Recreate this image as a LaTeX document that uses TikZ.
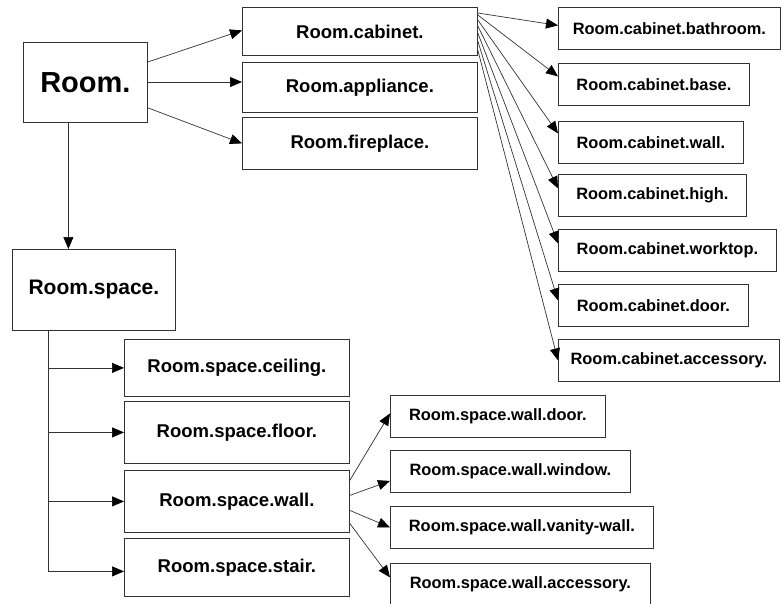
\documentclass[tikz,border=0pt]{standalone}
\usepackage{fontspec}
\setmainfont{Liberation Sans}
\usetikzlibrary{arrows.meta}

\begin{document}
\begin{tikzpicture}[x=1pt, y=-1pt,
  box/.style={draw=black!80, line width=0.8pt, anchor=north west, inner sep=0pt, align=center},
  lvlone/.style={box, font=\bfseries\fontsize{18.5}{20}\selectfont},
  lvltwo/.style={box, minimum height=42, font=\bfseries\fontsize{16.4}{18}\selectfont},
  arr/.style={draw=black!80, line width=0.7pt, -{Triangle[length=12pt, width=10pt, color=black]}}]
\useasboundingbox (0,0) rectangle (781,603);
% top level
\node[box, minimum width=124, minimum height=80, font=\bfseries\fontsize{29}{30}\selectfont] (room) at (23,42) {Room.};
\node[lvlone, minimum width=235, minimum height=48] (cab) at (242,7) {Room.cabinet.};
\node[lvlone, minimum width=235, minimum height=50] (app) at (242,62) {Room.appliance.};
\node[lvlone, minimum width=235, minimum height=52] (fire) at (242,117) {Room.fireplace.};
\node[box, minimum width=163, minimum height=81, font=\bfseries\fontsize{21}{22}\selectfont] (space) at (12,249) {Room.space.};
\draw[arr] ([yshift=-20pt]room.north east) -- ([yshift=1pt]cab.west);
\draw[arr] ([yshift=-40pt]room.north east) -- ([yshift=-40pt]room.north east -| app.west);
\draw[arr] ([yshift=15pt]room.south east) -- (fire.west);
\draw[arr] ([xshift=-17pt]room.south) -- ([xshift=-17pt]room.south |- space.north);
% cabinets
\foreach \n/\t/\y/\w/\s/\d in {
bath/bathroom/7/222/6/3, base/base/63/191/8/8, wall/wall/121/185/13/9,
high/high/174/188/19/7, work/worktop/229/218/26/7, door/door/284/190/34/5,
acc/accessory/339/221/43/0
}{
\node[lvltwo, minimum width=\w] (cab-\n) at (558,\y) {Room.cabinet.\t.};
\draw[arr] ([yshift=-\s pt]cab.north east) -- ([yshift=\d pt]cab-\n.west);
}
% space
\foreach \n/\t/\y/\h/\o in {
ceil/ceiling/339/57/0, floor/floor/401/62/0, wall/wall/470/62/0, stair/stair/538/58/-4
}{
\node[lvlone, minimum width=225, minimum height=\h] (sp-\n) at (124,\y) {Room.space.\t.};
\draw[arr] ([xshift=-45.5pt]space.south) |- ([yshift=\o pt]sp-\n.west);
}
% walls
\foreach \n/\t/\y/\w/\s/\d in {
door/door/395/215/21/3, win/window/450/240/6/-9.5,
van/vanity-wall/506/263/-9/0, acc/accessory/563/260/-22/7
}{
\node[lvltwo, minimum width=\w] (wall-\n) at (390,\y) {Room.space.wall.\t.};
\draw[arr] ([yshift=\s pt]sp-wall.east) -- ([yshift=\d pt]wall-\n.west);
}
\end{tikzpicture}
\end{document}
